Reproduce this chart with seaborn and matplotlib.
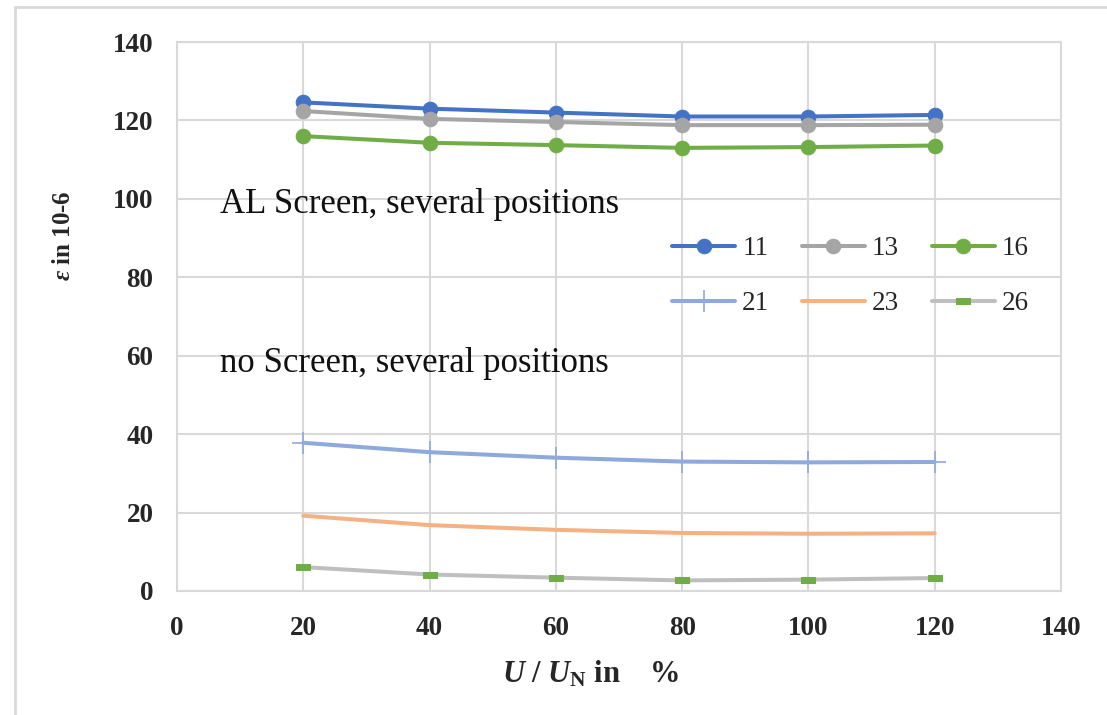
import numpy as np
import pandas as pd
import matplotlib.pyplot as plt
from matplotlib.lines import Line2D
import seaborn as sns


# voltage steps in % of nominal voltage
U_PCT = [20, 40, 60, 80, 100, 120]

# strain in 10-6, AL screen
EPS_11 = [124.6, 123.0, 122.0, 121.0, 121.0, 121.4]
EPS_13 = [122.4, 120.4, 119.6, 118.8, 118.8, 118.9]
EPS_16 = [116.0, 114.3, 113.7, 113.0, 113.2, 113.6]

# strain in 10-6, no screen
EPS_21 = [37.8, 35.4, 34.0, 33.0, 32.8, 32.9]
EPS_23 = [19.2, 16.8, 15.6, 14.8, 14.6, 14.7]
EPS_26 = [6.1, 4.2, 3.4, 2.7, 2.9, 3.3]

SERIES_NAMES = ["11", "13", "16", "21", "23", "26"]

COLORS = {
    "11": "#4472C4",
    "13": "#A5A5A5",
    "16": "#70AD47",
    "21": "#8EA9DB",
    "23": "#F4B183",
    "26": "#BFBFBF",
}

RECT = [(-1, -0.45), (1, -0.45), (1, 0.45), (-1, 0.45), (-1, -0.45)]


def build_frame() -> pd.DataFrame:
    values = [EPS_11, EPS_13, EPS_16, EPS_21, EPS_23, EPS_26]
    rows = []
    for name, eps in zip(SERIES_NAMES, values):
        for u, e in zip(U_PCT, eps):
            rows.append({"series": name, "u": u, "eps": e})
    return pd.DataFrame(rows)


def main() -> None:
    sns.set_theme(style="white")
    plt.rcParams["font.family"] = ["Liberation Serif", "DejaVu Serif"]
    plt.rcParams["mathtext.fontset"] = "custom"
    plt.rcParams["mathtext.rm"] = "Liberation Serif:bold"
    plt.rcParams["mathtext.it"] = "Liberation Serif:italic:bold"
    plt.rcParams["mathtext.bf"] = "Liberation Serif:bold"

    df = build_frame()

    fig = plt.figure(figsize=(11.07, 7.15), dpi=100)
    ax = fig.add_axes([177 / 1107, 1 - 591 / 715, (1061 - 177) / 1107, (591 - 42) / 715])

    styles = {
        "11": dict(marker="o", markersize=10.5, lw=2.9),
        "13": dict(marker="o", markersize=10.5, lw=2.9),
        "16": dict(marker="o", markersize=10.5, lw=2.9),
        "21": dict(marker="+", markersize=16, markeredgewidth=1.2, lw=2.9),
        "23": dict(marker=None, lw=2.9),
        "26": dict(marker=RECT, markersize=10, lw=2.9,
                   markerfacecolor=COLORS["16"], markeredgecolor=COLORS["16"]),
    }

    for name in SERIES_NAMES:
        sub = df[df["series"] == name]
        kw = dict(styles[name])
        if name != "26" and kw.get("marker") is not None:
            kw.setdefault("markerfacecolor", COLORS[name])
            kw.setdefault("markeredgecolor", COLORS[name])
        sns.lineplot(data=sub, x="u", y="eps", color=COLORS[name], ax=ax,
                     label=name, **kw)

    ax.set_xlim(0, 140)
    ax.set_ylim(0, 140)
    ax.set_xticks(np.arange(0, 141, 20))
    ax.set_yticks(np.arange(0, 141, 20))
    ax.grid(True, color="#D9D9D9", lw=1.5)
    ax.set_axisbelow(True)
    for sp in ax.spines.values():
        sp.set_color("#D9D9D9")
        sp.set_linewidth(1.5)
    ax.tick_params(axis="both", length=0, labelsize=19.5)
    ax.tick_params(axis="x", pad=18)
    ax.tick_params(axis="y", pad=17)
    for lab in ax.get_xticklabels() + ax.get_yticklabels():
        lab.set_fontweight("bold")

    ax.set_xlabel(r"$U$ / $U_{\mathrm{N}}$ in    %", fontsize=22, fontweight="bold")
    ax.xaxis.set_label_coords(0.468, -0.124)
    ax.set_ylabel(r"$\varepsilon$ in 10-6", fontsize=18, fontweight="bold")
    ax.yaxis.set_label_coords(-0.115, 0.648)

    ax.text(6.8, 96.4, "AL Screen, several positions", fontsize=25, color="#111111")
    ax.text(6.8, 55.9, "no Screen, several positions", fontsize=25, color="#111111")

    # legend: 2 rows x 3 columns, filled row-wise
    handles, labels = ax.get_legend_handles_labels()
    lookup = dict(zip(labels, handles))
    order = ["11", "21", "13", "23", "16", "26"]
    ax.legend([lookup[k] for k in order], order, ncol=3, frameon=False,
              fontsize=19.5, loc="upper left", bbox_to_anchor=(0.56, 0.646),
              handlelength=2.33, handletextpad=0.26, columnspacing=1.2,
              labelspacing=1.1, borderaxespad=0, borderpad=0)

    # outer chart border
    fig.add_artist(Line2D([15 / 1107, 15 / 1107], [0, 1 - 7 / 715],
                          transform=fig.transFigure, color="#D9D9D9", lw=2))
    fig.add_artist(Line2D([15 / 1107, 1], [1 - 7 / 715, 1 - 7 / 715],
                          transform=fig.transFigure, color="#D9D9D9", lw=2))

    fig.savefig("out.png", dpi=100)
    plt.close(fig)


if __name__ == "__main__":
    main()
